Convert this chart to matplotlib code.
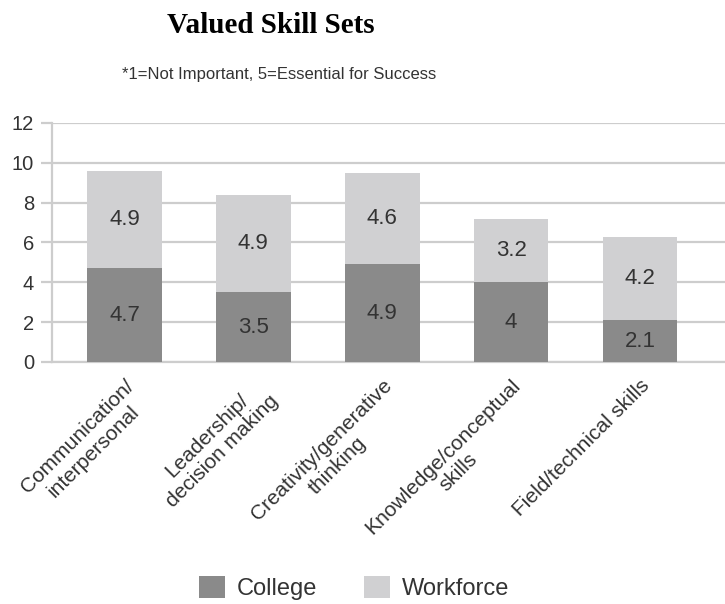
import matplotlib.pyplot as plt
import numpy as np

# skill categories and mean ratings (1-5 scale)
skills = [
    "Communication/\ninterpersonal",
    "Leadership/\ndecision making",
    "Creativity/generative\nthinking",
    "Knowledge/conceptual\nskills",
    "Field/technical skills",
]
college = [4.7, 3.5, 4.9, 4, 2.1]
workforce = [4.9, 4.9, 4.6, 3.2, 4.2]
yticks = [0, 2, 4, 6, 8, 10, 12]

college_color = "#8a8a8a"
workforce_color = "#d0d0d2"
grid_color = "#cdcdcd"
text_color = "#333333"

plt.rcParams["font.family"] = ["Liberation Sans", "DejaVu Sans"]

fig = plt.figure(figsize=(7.25, 6.04), dpi=100)
ax = fig.add_axes([0.0717, 0.4007, 0.9283, 0.3957])

x = np.arange(len(skills))
width = 0.58
b1 = ax.bar(x, college, width, color=college_color, label="College", zorder=3)
b2 = ax.bar(x, workforce, width, bottom=college, color=workforce_color,
            label="Workforce", zorder=3)

# value labels centred in each segment
for xi, c, w in zip(x, college, workforce):
    ax.text(xi, c / 2, f"{c:g}", ha="center", va="center",
            fontsize=16, color=text_color, zorder=4)
    ax.text(xi, c + w / 2, f"{w:g}", ha="center", va="center",
            fontsize=16, color=text_color, zorder=4)

ax.set_ylim(0, 12)
ax.set_xlim(-0.5625, 4.66)
ax.set_yticks(yticks)
ax.set_yticklabels([str(t) for t in yticks], fontsize=14.5, color=text_color)
ax.yaxis.grid(True, color=grid_color, linewidth=1.6, zorder=0)
ax.tick_params(axis="y", length=8, width=1.6, color=grid_color, pad=5)

ax.set_xticks(x)
ax.set_xticklabels(skills, rotation=45, ha="right", rotation_mode="anchor",
                   fontsize=15, color=text_color, multialignment="center")
ax.tick_params(axis="x", length=0, pad=10)

for side in ["top", "right"]:
    ax.spines[side].set_visible(False)
for side in ["left", "bottom"]:
    ax.spines[side].set_color(grid_color)
    ax.spines[side].set_linewidth(1.6)

# titles
fig.text(0.374, 0.958, "Valued Skill Sets", ha="center", va="center",
         fontsize=21, fontweight="bold", family=["Liberation Serif", "DejaVu Serif"])
fig.text(0.385, 0.876, "*1=Not Important, 5=Essential for Success",
         ha="center", va="center", fontsize=12, color=text_color)

fig.legend(handles=[b1, b2], loc="center", bbox_to_anchor=(0.488, 0.027),
           ncol=2, frameon=False, fontsize=17, handlelength=1.1,
           handleheight=1.1, handletextpad=0.5, columnspacing=2.0,
           labelcolor=text_color)

fig.savefig("out.png", dpi=100)
